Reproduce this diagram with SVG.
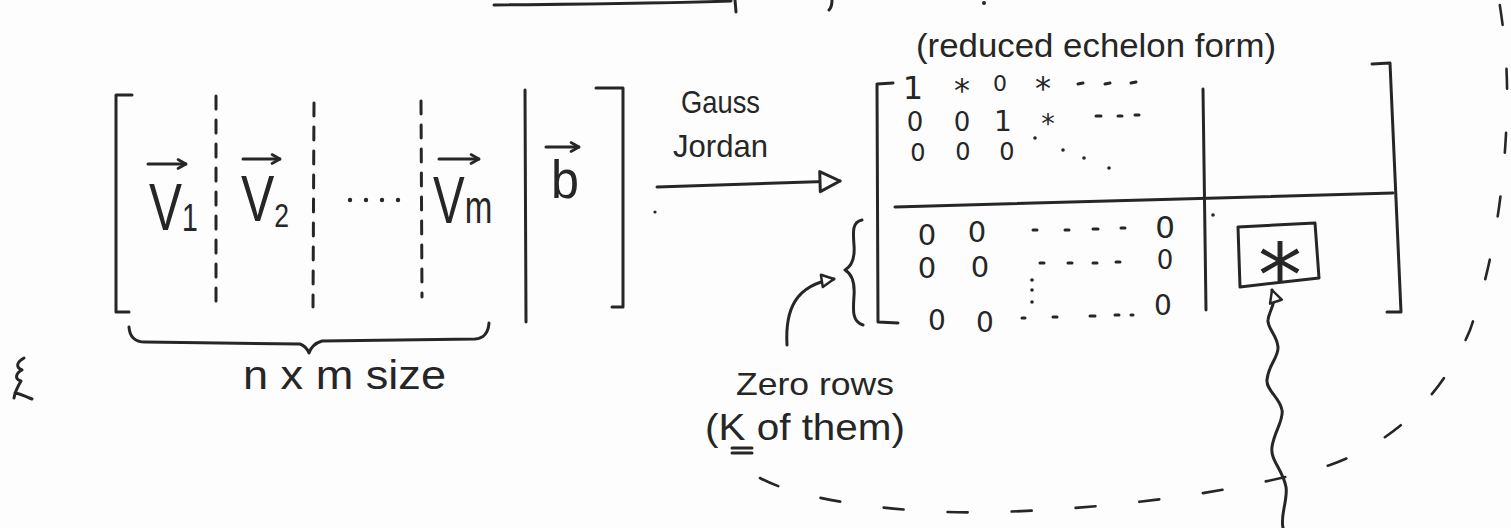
<svg xmlns="http://www.w3.org/2000/svg" width="1511" height="528" viewBox="0 0 1511 528">
<style>
.ink{fill:none;stroke:#262626;stroke-width:3;stroke-linecap:round;stroke-linejoin:round}
.div{stroke-dasharray:13 11}
.arc{stroke-dasharray:20 44;stroke-width:2.6}
.t{font-family:"Liberation Sans",Arial,sans-serif;fill:#262626}
.m{font-family:"DejaVu Sans","Liberation Sans",sans-serif;fill:#262626;text-anchor:middle}
.dot{fill:#262626}
</style>
<defs>
<marker id="tri" viewBox="0 0 26 26" refX="23" refY="13" markerWidth="26" markerHeight="26" markerUnits="userSpaceOnUse" orient="auto">
<path d="M3,3 L23,13 L3,23 Z" fill="#fdfdfd" stroke="#262626" stroke-width="3" stroke-linejoin="round"/>
</marker>
<marker id="tris" viewBox="0 0 26 26" refX="23" refY="13" markerWidth="16" markerHeight="16" markerUnits="userSpaceOnUse" orient="auto">
<path d="M3,3 L23,13 L3,23 Z" fill="#fdfdfd" stroke="#262626" stroke-width="4" stroke-linejoin="round"/>
</marker>
<marker id="vec" viewBox="0 0 12 12" refX="11" refY="6" markerWidth="12" markerHeight="12" markerUnits="userSpaceOnUse" orient="auto">
<path d="M3,1.5 L11,6 L3,10.5" fill="none" stroke="#262626" stroke-width="2.6" stroke-linecap="round" stroke-linejoin="round"/>
</marker>
</defs>
<rect width="1511" height="528" fill="#fdfdfd"/>

<g id="top-fragment">
<path class="ink" d="M494,5 C600,4 680,3 731,1"/>
<path class="ink" d="M735,0 L736,12 M832,0 C832,4 831,8 829,10"/>
<circle class="dot" cx="984" cy="3" r="2"/>
</g>

<g id="scribble">
<path class="ink" stroke-width="2" d="M24,358 C17,362 15,367 22,370 C16,373 14,379 21,381 C18,386 15,392 14,398 M15,393 C21,394 27,397 32,399"/>
</g>

<g id="augmented-matrix">
<path class="ink" d="M132,95 L116,95 L116,312 L129,312"/>
<path class="ink div" d="M216,96 L216,310"/>
<path class="ink div" d="M314,103 L313,307"/>
<path class="ink div" d="M421,101 L422,297"/>
<path class="ink" d="M148,164 L186,164" marker-end="url(#vec)"/>
<text class="t" transform="translate(149,230) scale(0.75,1)" font-size="66">V<tspan font-size="38" dy="1">1</tspan></text>
<path class="ink" d="M243,159 L280,159" marker-end="url(#vec)"/>
<text class="t" transform="translate(241,221) scale(0.78,1)" font-size="64">V<tspan font-size="34" dy="6">2</tspan></text>
<circle class="dot" cx="350" cy="200" r="2.2"/><circle class="dot" cx="366" cy="200" r="2.2"/><circle class="dot" cx="382" cy="200" r="2.2"/><circle class="dot" cx="398" cy="200" r="2.2"/>
<path class="ink" d="M439,159 L479,159" marker-end="url(#vec)"/>
<text class="t" transform="translate(433,223) scale(0.72,1)" font-size="66">V<tspan font-size="46">m</tspan></text>
<path class="ink" d="M525,90 L526,322"/>
<path class="ink" d="M546,147 L579,147" marker-end="url(#vec)"/>
<text class="t" x="551" y="198" font-size="54" textLength="28" lengthAdjust="spacingAndGlyphs">b</text>
<path class="ink" d="M596,88 L623,88 L623,307 L612,307"/>
<circle class="dot" cx="655" cy="212" r="1.6"/>
</g>

<g id="size-label">
<path class="ink" d="M129,327 Q130,342 145,342 L300,344 Q306,346 309,353 Q312,344 322,341 L475,339 Q488,338 489,323"/>
<text class="t" x="243" y="389" font-size="40" textLength="203" lengthAdjust="spacingAndGlyphs">n x m size</text>
</g>

<g id="gauss-jordan-label">
<text class="t" x="681" y="113" font-size="32" textLength="79" lengthAdjust="spacingAndGlyphs">Gauss</text>
<text class="t" x="673" y="157" font-size="32" textLength="95" lengthAdjust="spacingAndGlyphs">Jordan</text>
</g>

<g id="echelon-label">
<text class="t" x="916" y="57" font-size="34" textLength="360" lengthAdjust="spacingAndGlyphs">(reduced echelon form)</text>
</g>

<g id="reduced-matrix">
<path class="ink" d="M893,83 L877,84 L878,322 L898,323"/>
<path class="ink" d="M1372,64 L1390,63 Q1396,190 1401,312 L1387,312"/>
<path class="ink" d="M895,207 L1393,193"/>
<path class="ink" d="M1203,89 L1206,310"/>
<circle class="dot" cx="1213" cy="215" r="1.8"/>
<!-- pivot block rows -->
<text class="m" font-size="32"><tspan x="913" y="99">1</tspan><tspan x="962" y="101">*</tspan><tspan x="1000" y="91" font-size="22">0</tspan><tspan x="1043" y="99">*</tspan></text>
<text class="m" font-size="26"><tspan x="915" y="131">0</tspan><tspan x="962" y="131">0</tspan><tspan x="1003" y="131" font-size="28">1</tspan><tspan x="1048" y="133" font-size="27">*</tspan></text>
<text class="m" font-size="24"><tspan x="918" y="161">0</tspan><tspan x="963" y="160">0</tspan><tspan x="1007" y="160">0</tspan></text>
<path class="ink" d="M1078,84 L1083,83 M1105,84 L1110,83 M1131,83 L1136,82"/>
<path class="ink" d="M1096,116 L1101,116 M1118,116 L1122,116 M1135,115 L1139,115"/>
<circle class="dot" cx="1035" cy="138" r="1.8"/><circle class="dot" cx="1063" cy="150" r="1.8"/><circle class="dot" cx="1084" cy="158" r="1.8"/><circle class="dot" cx="1109" cy="168" r="1.8"/>
<!-- zero rows -->
<text class="m" x="927" y="245" font-size="29">0</text>
<text class="m" x="977" y="242" font-size="29">0</text>
<path class="ink" d="M1033,230 L1037,230 M1065,230 L1069,230 M1093,229 L1098,229 M1121,228 L1125,228"/>
<text class="m" x="1165" y="238" font-size="31">0</text>
<text class="m" x="927" y="278" font-size="29">0</text>
<text class="m" x="980" y="277" font-size="29">0</text>
<path class="ink" d="M1040,263 L1044,263 M1068,263 L1072,263 M1093,263 L1097,263 M1116,262 L1120,262"/>
<text class="m" x="1165" y="269" font-size="26">0</text>
<circle class="dot" cx="1032" cy="280" r="1.8"/><circle class="dot" cx="1032" cy="290" r="1.8"/><circle class="dot" cx="1032" cy="302" r="1.8"/>
<text class="m" x="937" y="330" font-size="28">0</text>
<text class="m" x="985" y="332" font-size="28">0</text>
<path class="ink" d="M1022,318 L1025,318 M1053,317 L1057,317 M1090,316 L1095,316 M1115,315 L1119,315 M1131,315 L1133,315"/>
<text class="m" x="1163" y="315" font-size="28">0</text>
<!-- brace -->
<path class="ink" d="M862,220 C852,222 853,232 854,245 C855,258 852,266 845,270 C852,274 855,282 854,296 C853,310 852,322 863,325"/>
</g>

<g id="star-box">
<path class="ink" d="M1238,227 L1315,223 L1319,278 L1240,287 Z"/>
<text class="m" x="1280" y="306" font-size="88">*</text>
</g>

<g id="zero-rows-label">
<text class="t" x="736" y="395" font-size="32" textLength="158" lengthAdjust="spacingAndGlyphs">Zero rows</text>
<text class="t" x="705" y="440" font-size="36" textLength="200" lengthAdjust="spacingAndGlyphs">(K of them)</text>
<path class="ink" stroke-width="2.4" d="M732,448 L752,448 M732,453 L752,453"/>
</g>

<g id="connectors">
<path class="ink" d="M657,187 C710,185 770,183 840,181" marker-end="url(#tri)"/>
<path class="ink" d="M787,345 C785,310 795,285 834,279" marker-end="url(#tris)"/>
<path class="ink" d="M1283,528 C1280,515 1288,500 1286,487 C1283,470 1270,460 1272,447 C1274,432 1284,420 1282,410 C1280,398 1266,390 1267,380 C1268,365 1279,357 1278,347 C1277,335 1267,328 1268,320 C1269,310 1277,305 1272,290" marker-end="url(#tris)"/>
<path class="ink arc" d="M760,478 C800,500 900,515 1000,512 C1120,508 1240,492 1330,465 C1400,440 1445,390 1470,330 C1495,260 1505,180 1507,110 C1508,60 1503,25 1499,0"/>
</g>
</svg>
